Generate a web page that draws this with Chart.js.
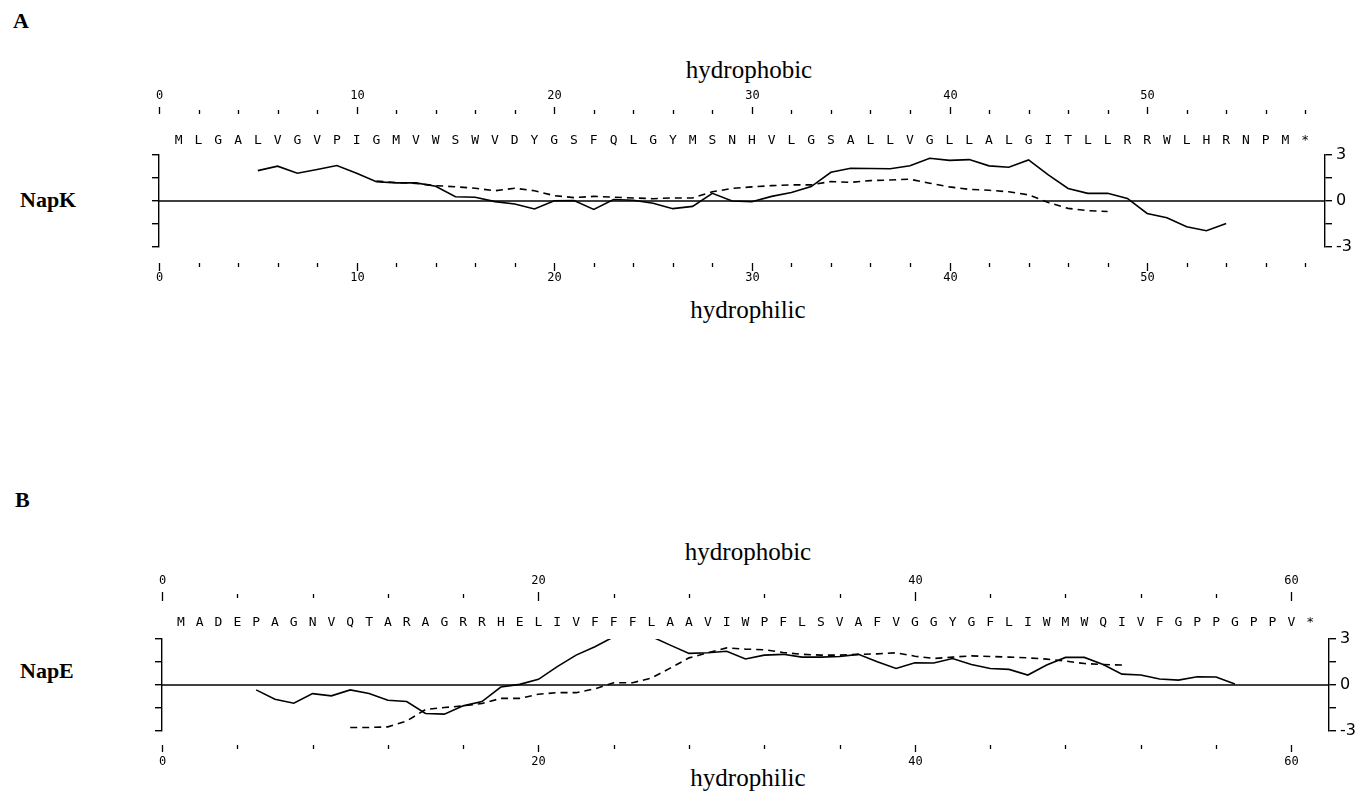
<!DOCTYPE html>
<html lang="en">
<head>
<meta charset="UTF-8">
<title>NapK / NapE hydropathy</title>
<script src="https://cdn.jsdelivr.net/npm/chart.js"></script>
<style>
  body { margin: 0; background: #fff; }
  #page { position: relative; width: 1361px; height: 794px; overflow: hidden; }
  canvas { position: absolute; left: 0; top: 0; }
  .lbl { position: absolute; font-family: "Liberation Serif", "Times New Roman", serif; color: #000; line-height: 1; white-space: nowrap; }
  .bold { font-weight: bold; font-size: 22px; }
  .side { font-size: 25px; width: 300px; text-align: center; }
</style>
</head>
<body>
<div id="page">
  <div class="lbl bold" style="left:13px;top:10px">A</div>
  <div class="lbl bold" style="left:15px;top:489px">B</div>
  <div class="lbl bold" style="left:20px;top:189px">NapK</div>
  <div class="lbl bold" style="left:20px;top:660px">NapE</div>
  <div class="lbl side" style="left:599px;top:57px">hydrophobic</div>
  <div class="lbl side" style="left:598px;top:297px">hydrophilic</div>
  <div class="lbl side" style="left:598px;top:539px">hydrophobic</div>
  <div class="lbl side" style="left:598px;top:765px">hydrophilic</div>
  <canvas id="chartA" width="1361" height="794"></canvas>
  <canvas id="chartB" width="1361" height="794"></canvas>
</div>

<script>
// ---- panel A : NapK ----
const napKResidues = ['M','L','G','A','L','V','G','V','P','I','G','M','V','W','S','W','V','D','Y','G',
                      'S','F','Q','L','G','Y','M','S','N','H','V','L','G','S','A','L','L','V','G','L',
                      'L','A','L','G','I','T','L','L','R','R','W','L','H','R','N','P','M','*'];
const napKTickLabels = [0, 10, 20, 30, 40, 50];
const napKSolidStart = 5;
const napKSolid = [1.98, 2.27, 1.81, 2.05, 2.31, 1.81, 1.26, 1.18, 1.18, 0.96,
                   0.28, 0.24, -0.04, -0.2, -0.52, 0.02, 0.03, -0.55, 0.1, 0.05,
                   -0.15, -0.5, -0.35, 0.5, 0.0, -0.05, 0.3, 0.55, 0.94, 1.87,
                   2.14, 2.12, 2.1, 2.3, 2.79, 2.65, 2.7, 2.29, 2.2, 2.68,
                   1.7, 0.82, 0.5, 0.5, 0.17, -0.81, -1.09, -1.68, -1.94, -1.46];
const napKDashedStart = 11;
const napKDashed = [1.3, 1.2, 1.15, 1.0, 0.93, 0.83, 0.67, 0.83, 0.67, 0.35,
                    0.22, 0.3, 0.25, 0.2, 0.15, 0.2, 0.2, 0.6, 0.82, 0.92,
                    1.0, 1.05, 1.05, 1.27, 1.22, 1.33, 1.37, 1.42, 1.16, 0.92,
                    0.76, 0.7, 0.6, 0.4, -0.1, -0.48, -0.63, -0.68];

// ---- panel B : NapE ----
const napEResidues = ['M','A','D','E','P','A','G','N','V','Q','T','A','R','A','G','R','R','H','E','L',
                      'I','V','F','F','F','L','A','A','V','I','W','P','F','L','S','V','A','F','V','G',
                      'G','Y','G','F','L','I','W','M','W','Q','I','V','F','G','P','P','G','P','P','V','*'];
const napETickLabels = [0, 20, 40, 60];
const napESolidStart = 5;
const napESolid = [-0.32, -0.93, -1.19, -0.56, -0.71, -0.32, -0.56, -1.0, -1.08, -1.86,
                   -1.9, -1.36, -1.08, -0.13, 0.04, 0.37, 1.2, 1.95, 2.5, 3.14,
                   3.5, 3.16, 2.6, 2.06, 2.1, 2.2, 1.7, 1.95, 2.0, 1.82,
                   1.82, 1.86, 2.0, 1.52, 1.08, 1.45, 1.43, 1.73, 1.34, 1.08,
                   1.02, 0.65, 1.3, 1.8, 1.8, 1.34, 0.71, 0.65, 0.39, 0.32,
                   0.54, 0.52, 0.06];
const napEDashedStart = 10;
const napEDashed = [-2.77, -2.77, -2.73, -2.35, -1.6, -1.47, -1.36, -1.21, -0.87, -0.87,
                    -0.6, -0.5, -0.5, -0.25, 0.15, 0.15, 0.45, 1.1, 1.77, 2.1,
                    2.42, 2.34, 2.3, 2.12, 2.0, 1.95, 1.95, 2.0, 2.03, 2.1,
                    1.88, 1.73, 1.82, 1.9, 1.86, 1.82, 1.77, 1.69, 1.56, 1.4,
                    1.34, 1.3];

const yTickLabels = [3, 0, -3];

function toPoints(start, values) {
  return values.map((v, i) => ({ x: start + i, y: v }));
}

// zero line, residue letters and the two residue-number axes
const profileDecor = {
  id: 'profileDecor',
  beforeDatasetsDraw(chart) {
    const { ctx, chartArea: a, scales: { y } } = chart;
    const y0 = y.getPixelForValue(0);
    ctx.save();
    ctx.strokeStyle = '#000';
    ctx.lineWidth = 1.4;
    ctx.beginPath();
    ctx.moveTo(a.left, y0);
    ctx.lineTo(a.right, y0);
    ctx.stroke();
    ctx.restore();
  },
  afterDraw(chart, args, o) {
    const { ctx, scales: { x } } = chart;
    ctx.save();
    ctx.strokeStyle = '#000';
    ctx.fillStyle = '#000';
    ctx.lineWidth = 1.3;
    ctx.textAlign = 'center';
    ctx.textBaseline = 'middle';
    ctx.font = '12px "DejaVu Sans Mono"';
    for (let v = 0; v <= o.tickEnd; v += o.tickStep) {
      const px = Math.round(x.getPixelForValue(v)) + 0.5;
      const major = o.labels.includes(v);
      const t = major ? o.topMajor : o.topMinor;
      const b = major ? o.bottomMajor : o.bottomMinor;
      ctx.beginPath();
      ctx.moveTo(px, t[0]); ctx.lineTo(px, t[1]);
      ctx.moveTo(px, b[0]); ctx.lineTo(px, b[1]);
      ctx.stroke();
      if (major) {
        ctx.fillText(String(v), px, o.topLabelY);
        ctx.fillText(String(v), px, o.bottomLabelY);
      }
    }
    ctx.font = '13px "DejaVu Sans Mono"';
    o.residues.forEach((r, i) => ctx.fillText(r, x.getPixelForValue(i + 1), o.residueY));
    ctx.restore();
  }
};

function makeChart(id, cfg) {
  const gridStyle = { drawOnChartArea: false, tickLength: 7, color: '#000', lineWidth: 1.4 };
  const borderStyle = { color: '#000', width: 1.4 };
  return new Chart(document.getElementById(id), {
    type: 'line',
    data: {
      datasets: [
        { data: toPoints(cfg.solidStart, cfg.solid), borderColor: '#000', borderWidth: 1.6,
          pointRadius: 0, tension: 0, fill: false },
        { data: toPoints(cfg.dashedStart, cfg.dashed), borderColor: '#000', borderWidth: 1.6,
          borderDash: [7, 5], pointRadius: 0, tension: 0, fill: false }
      ]
    },
    options: {
      responsive: false,
      animation: false,
      events: [],
      layout: { padding: cfg.padding },
      plugins: {
        legend: { display: false },
        tooltip: { enabled: false },
        profileDecor: cfg.decor
      },
      scales: {
        x: { type: 'linear', min: 0, max: cfg.xMax, display: false },
        y: {
          position: 'left', min: -3, max: 3,
          ticks: { display: false, stepSize: 1.5 },
          grid: gridStyle, border: borderStyle,
          afterFit: s => { s.width = 10; }
        },
        y2: {
          position: 'right', min: -3, max: 3,
          ticks: {
            stepSize: 1.5, padding: 4, color: '#000',
            font: { family: 'DejaVu Sans', size: 16 },
            callback: v => yTickLabels.includes(v) ? String(v) : ''
          },
          grid: gridStyle, border: borderStyle,
          afterFit: s => { s.width = cfg.rightWidth; }
        }
      }
    },
    plugins: [profileDecor]
  });
}

makeChart('chartA', {
  solidStart: napKSolidStart, solid: napKSolid,
  dashedStart: napKDashedStart, dashed: napKDashed,
  xMax: 59, rightWidth: 36,
  padding: { left: 149, right: 0, top: 155, bottom: 547 },
  decor: {
    residues: napKResidues, labels: napKTickLabels, tickEnd: 58, tickStep: 2,
    topLabelY: 96, topMajor: [107, 114], topMinor: [110, 114], residueY: 141,
    bottomMajor: [263, 271], bottomMinor: [263, 267], bottomLabelY: 278
  }
});

makeChart('chartB', {
  solidStart: napESolidStart, solid: napESolid,
  dashedStart: napEDashedStart, dashed: napEDashed,
  xMax: 62, rightWidth: 32,
  padding: { left: 152, right: 0, top: 639, bottom: 63 },
  decor: {
    residues: napEResidues, labels: napETickLabels, tickEnd: 60, tickStep: 4,
    topLabelY: 581, topMajor: [592, 601], topMinor: [594, 598], residueY: 623,
    bottomMajor: [745, 752], bottomMinor: [745, 749], bottomLabelY: 762
  }
});
</script>
</body>
</html>
